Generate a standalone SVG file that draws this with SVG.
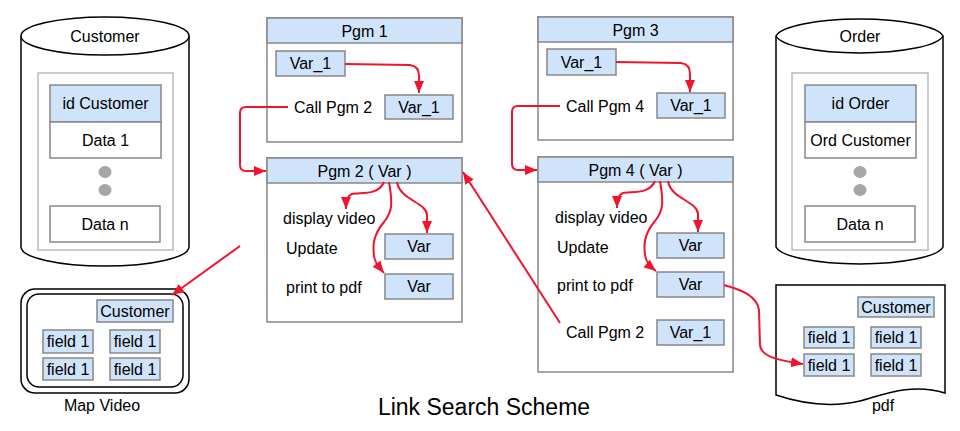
<svg xmlns="http://www.w3.org/2000/svg" width="960" height="431" viewBox="0 0 960 431">
<defs>
<style>
text{font-family:"Liberation Sans",Arial,sans-serif;font-size:16px;fill:#000;dominant-baseline:central}
.c{text-anchor:middle}
.frame{fill:#fff;stroke:#888;stroke-width:1.5}
.hdr{fill:#cfe3fa;stroke:#888;stroke-width:1.5}
.box{fill:#cfe3fa;stroke:#888;stroke-width:1.5}
.wbox{fill:#fff;stroke:#888;stroke-width:1.5}
.inner{fill:#fff;stroke:#bbb;stroke-width:1.5}
.cyl{fill:#fff;stroke:#000;stroke-width:1.5}
.dot{fill:#a6a6a6}
.red{fill:none;stroke:#f2132f;stroke-width:2}
</style>
<marker id="ah" viewBox="0 0 12 10" refX="12" refY="5" markerWidth="12" markerHeight="10" markerUnits="userSpaceOnUse" orient="auto">
<path d="M0,0 L12,5 L0,10 Z" fill="#f2132f"/>
</marker>
</defs>
<rect width="960" height="431" fill="#fff"/>

<g id="customer-db">
<path class="cyl" d="M21,36 A84,19 0 0 1 189,36 L189,247 A84,19 0 0 1 21,247 Z"/>
<path class="cyl" d="M21,36 A84,19 0 0 0 189,36" fill="none"/>
<text class="c" x="105" y="36">Customer</text>
<rect class="inner" x="38" y="73" width="135" height="177"/>
<rect class="box" x="50" y="85" width="111" height="37"/>
<text class="c" x="105.5" y="103">id Customer</text>
<rect class="wbox" x="50" y="122" width="111" height="36"/>
<text class="c" x="105.5" y="140">Data 1</text>
<ellipse class="dot" cx="105" cy="172" rx="6.5" ry="6"/>
<ellipse class="dot" cx="105" cy="190" rx="6.5" ry="6"/>
<rect class="wbox" x="50" y="206" width="110" height="36"/>
<text class="c" x="105" y="224">Data n</text>
</g>

<g id="order-db">
<path class="cyl" d="M776,36 A84,19 0 0 1 943,36 L943,247 A84,19 0 0 1 776,247 Z"/>
<path class="cyl" d="M776,36 A84,19 0 0 0 943,36" fill="none"/>
<text class="c" x="860" y="36">Order</text>
<rect class="inner" x="792" y="73" width="136" height="177"/>
<rect class="box" x="805" y="85" width="111" height="37"/>
<text class="c" x="860.5" y="103">id Order</text>
<rect class="wbox" x="805" y="122" width="111" height="36"/>
<text class="c" x="860.5" y="140">Ord Customer</text>
<ellipse class="dot" cx="860" cy="172" rx="6.5" ry="6"/>
<ellipse class="dot" cx="860" cy="190" rx="6.5" ry="6"/>
<rect class="wbox" x="805" y="206" width="110" height="36"/>
<text class="c" x="860" y="224">Data n</text>
</g>

<g id="pgm1">
<rect class="frame" x="267" y="18" width="195" height="124"/>
<rect class="hdr" x="267" y="18" width="195" height="25"/>
<text class="c" x="364.5" y="31">Pgm 1</text>
<rect class="box" x="276" y="51" width="69" height="25"/>
<text class="c" x="310.5" y="63.5">Var_1</text>
<text x="294" y="107">Call Pgm 2</text>
<rect class="box" x="385" y="95" width="68" height="24"/>
<text class="c" x="419" y="107">Var_1</text>
</g>

<g id="pgm2">
<rect class="frame" x="267" y="158" width="195" height="164"/>
<rect class="hdr" x="267" y="158" width="195" height="25"/>
<text class="c" x="364.5" y="171">Pgm 2 ( Var )</text>
<text x="283" y="218">display video</text>
<text x="286" y="248">Update</text>
<text x="286" y="287">print to pdf</text>
<rect class="box" x="385" y="234" width="68" height="25"/>
<text class="c" x="419" y="246.5">Var</text>
<rect class="box" x="385" y="274" width="68" height="25"/>
<text class="c" x="419" y="286.5">Var</text>
</g>

<g id="pgm3">
<rect class="frame" x="538" y="17" width="195" height="123"/>
<rect class="hdr" x="538" y="17" width="195" height="25"/>
<text class="c" x="635.5" y="30">Pgm 3</text>
<rect class="box" x="547" y="49" width="69" height="26"/>
<text class="c" x="581.5" y="62">Var_1</text>
<text x="566" y="106">Call Pgm 4</text>
<rect class="box" x="657" y="93" width="68" height="25"/>
<text class="c" x="691" y="105.5">Var_1</text>
</g>

<g id="pgm4">
<rect class="frame" x="538" y="157" width="195" height="215"/>
<rect class="hdr" x="538" y="157" width="195" height="25"/>
<text class="c" x="635.5" y="170">Pgm 4 ( Var )</text>
<text x="555" y="217">display video</text>
<text x="557" y="247">Update</text>
<text x="557" y="285">print to pdf</text>
<rect class="box" x="657" y="233" width="67" height="25"/>
<text class="c" x="690.5" y="245.5">Var</text>
<rect class="box" x="657" y="272" width="67" height="25"/>
<text class="c" x="690.5" y="284.5">Var</text>
<text x="566" y="332">Call Pgm 2</text>
<rect class="box" x="657" y="320" width="67" height="25"/>
<text class="c" x="690.5" y="332.5">Var_1</text>
</g>

<g id="map-video">
<rect x="21" y="289" width="168" height="104" rx="14" fill="#fff" stroke="#000" stroke-width="1.5"/>
<rect x="27" y="294" width="156" height="93" rx="12" fill="#fff" stroke="#000" stroke-width="1.5"/>
<rect class="box" x="97" y="300" width="76" height="22"/>
<text class="c" x="135" y="311">Customer</text>
<rect class="box" x="43" y="330" width="50" height="23"/>
<text class="c" x="68" y="341.5">field 1</text>
<rect class="box" x="110" y="330" width="50" height="23"/>
<text class="c" x="135" y="341.5">field 1</text>
<rect class="box" x="43" y="358" width="50" height="22"/>
<text class="c" x="68" y="369">field 1</text>
<rect class="box" x="110" y="358" width="50" height="22"/>
<text class="c" x="135" y="369">field 1</text>
<text class="c" x="102" y="405">Map Video</text>
</g>

<g id="pdf">
<path d="M776,285 L945,285 L945,393 C910,382 880,396 860,401 C830,408 800,403 776,395 Z" fill="#fff" stroke="#000" stroke-width="1.5"/>
<rect class="box" x="858" y="297" width="76" height="20"/>
<text class="c" x="896" y="307">Customer</text>
<rect class="box" x="804" y="327" width="50" height="21"/>
<text class="c" x="829" y="337.5">field 1</text>
<rect class="box" x="871" y="327" width="50" height="21"/>
<text class="c" x="896" y="337.5">field 1</text>
<rect class="box" x="804" y="354" width="50" height="22"/>
<text class="c" x="829" y="365">field 1</text>
<rect class="box" x="871" y="354" width="50" height="22"/>
<text class="c" x="896" y="365">field 1</text>
<text class="c" x="883" y="405">pdf</text>
</g>

<g id="title">
<text class="c" x="484" y="407" style="font-size:23px">Link Search Scheme</text>
</g>

<g id="connectors">
<path class="red" marker-end="url(#ah)" d="M345,64 L410,65 Q419,66 419,76 L419,93"/>
<path class="red" marker-end="url(#ah)" d="M288,107 L246,107 Q240,107 240,113 L240,165 Q240,171 246,171 L266,171"/>
<path class="red" marker-end="url(#ah)" d="M616,62 L681,63 Q690,64 690,74 L690,92"/>
<path class="red" marker-end="url(#ah)" d="M560,106 L518,106 Q512,106 512,112 L512,164 Q512,170 518,170 L537,170"/>
<path class="red" marker-end="url(#ah)" d="M384,182 C378,196 360,192 352,194 C347,196 346,200 346,209"/>
<path class="red" marker-end="url(#ah)" d="M389,182 C393,205 392,212 384,222 C372,236 373,248 374,256 C375,264 380,268 384,273"/>
<path class="red" marker-end="url(#ah)" d="M397,182 C400,200 426,202 427,215 L427,233"/>
<path class="red" marker-end="url(#ah)" d="M655,181 C649,195 631,191 623,193 C618,195 617,199 617,208"/>
<path class="red" marker-end="url(#ah)" d="M660,181 C664,204 663,211 655,221 C643,235 644,247 645,255 C646,263 651,267 656,271"/>
<path class="red" marker-end="url(#ah)" d="M668,181 C671,199 697,201 698,214 L698,232"/>
<path class="red" marker-end="url(#ah)" d="M560,323 L463,172"/>
<path class="red" marker-end="url(#ah)" d="M240,246 L172,295"/>
<path class="red" marker-end="url(#ah)" d="M724,285 C742,290 757,296 759,310 L760,345 C761,356 775,360 803,364"/>
</g>
</svg>
